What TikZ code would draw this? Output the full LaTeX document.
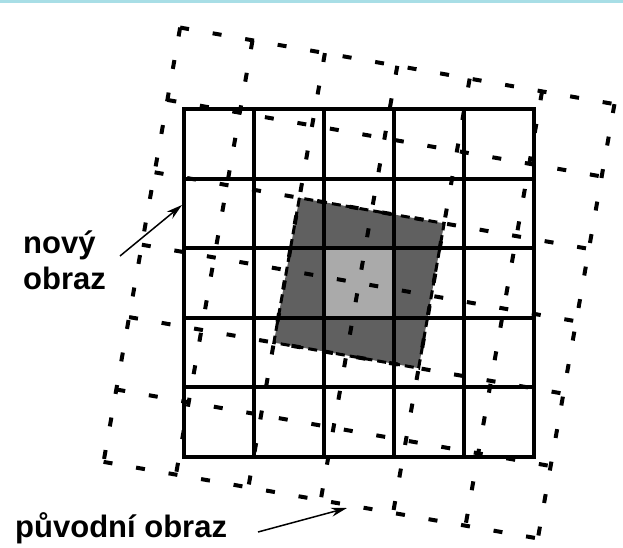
\documentclass[tikz,border=0pt]{standalone}
\usepackage{fontspec}
\setmainfont{Liberation Sans}
\usetikzlibrary{arrows.meta}
\definecolor{topcyan}{RGB}{168,222,230}
\definecolor{darkfill}{RGB}{96,96,96}
\definecolor{lightfill}{RGB}{170,170,170}
\begin{document}
\begin{tikzpicture}[x=1pt,y=-1pt,
  solidgrid/.style={line width=4pt, black, line cap=rect},
  dashgrid/.style={line width=4pt, black, dash pattern=on 9pt off 24pt},
  darkborder/.style={line width=3pt, black, dash pattern=on 9pt off 5pt},
  lbl/.style={font=\bfseries\fontsize{31}{36}\selectfont, inner sep=0pt, align=left},
  pointer/.style={line width=1.5pt, -{Stealth[length=16pt,width=9pt]}}]
\useasboundingbox (0,0) rectangle (623,548);
\fill[white] (0,0) rectangle (623,548);
\fill[topcyan] (0,0) rectangle (623,3);
% dark rotated square
\begin{scope}[shift={(359,283)}, rotate=-10]
  \fill[darkfill] (-73.5,-73.5) rectangle (73.5,73.5);
\end{scope}
\fill[lightfill] (324,248.2) rectangle (394,317.8);
% solid grid
\foreach \i in {0,...,5} {
  \draw[solidgrid] ({184+70*\i},109) -- ({184+70*\i},457);
  \draw[solidgrid] (184,{109+69.6*\i}) -- (534,{109+69.6*\i});
}
% dashed rotated grid
\begin{scope}[shift={(359,283)}, rotate=-10]
  \foreach \i in {0,...,6} {
    \draw[dashgrid] ({-220.5+73.5*\i},-220.5) -- ({-220.5+73.5*\i},220.5);
    \draw[dashgrid] (-220.5,{-220.5+73.5*\i}) -- (220.5,{-220.5+73.5*\i});
  }
  \draw[darkborder] (-73.5,-73.5) rectangle (73.5,73.5);
\end{scope}
% labels
\node[lbl, anchor=base west] (novy) at (23,289) {nový\\obraz};
\coordinate (novyTail) at (120,256);
\coordinate (novyHead) at (182,205);
\draw[pointer] (novyTail) -- (novyHead);
\node[lbl, anchor=base west] (puvodni) at (15,537) {původní obraz};
\coordinate (puvTail) at (258,532);
\coordinate (puvHead) at (347,508);
\draw[pointer] (puvTail) -- (puvHead);
\end{tikzpicture}
\end{document}
